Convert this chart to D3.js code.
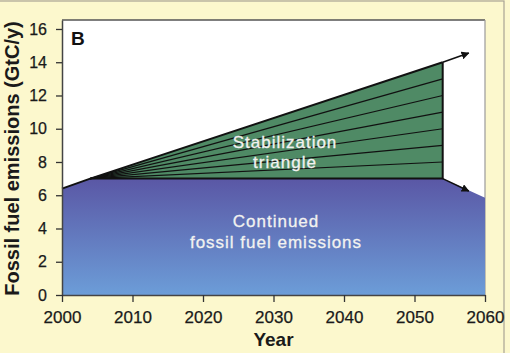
<!DOCTYPE html>
<html>
<head>
<meta charset="utf-8">
<script src="https://cdn.jsdelivr.net/npm/d3@7"></script>
<style>
  body { margin: 0; background: #fcf8cd; }
  svg { display: block; font-family: "Liberation Sans", Arial, sans-serif; }
</style>
</head>
<body>
<svg id="chart" width="510" height="353"></svg>
<script>
// emissions (GtC/y)
const emissionYears = [2000, 2004, 2054, 2060];
const emissionValues = [6.4, 7.0, 7.0, 5.85];
// upper path (business as usual ramp)
const rampYears = [2000, 2004, 2054];
const rampValues = [6.4, 7.0, 14.0];
// wedge edges at the end of the triangle
const wedgeEnds = [8, 9, 10, 11, 12, 13];
const wedgeStart = 2004, wedgeEnd = 2054, flatValue = 7.0;
// arrows past the triangle
const arrowYears = [2054, 2057.7];
const arrowTop = [14.0, 14.55];
const arrowBottom = [7.0, 6.25];
const yTicks = [0, 2, 4, 6, 8, 10, 12, 14, 16];
const xTicks = [2000, 2010, 2020, 2030, 2040, 2050, 2060];

const svg = d3.select("#chart");
const plotLeft = 62, plotRight = 485, plotTop = 20, plotBottom = 295;

const x = d3.scaleLinear().domain([2000, 2060]).range([plotLeft, plotRight]);
const y = d3.scaleLinear().domain([0, 16.54]).range([plotBottom, plotTop]);

// outer panel
svg.append("rect")
    .attr("x", -1).attr("y", 1)
    .attr("width", 505).attr("height", 360)
    .attr("fill", "#fcf8cd")
    .attr("stroke", "#a8a394")
    .attr("stroke-width", 1.2);

// plot box
svg.append("rect")
    .attr("x", plotLeft).attr("y", plotTop)
    .attr("width", plotRight - plotLeft).attr("height", plotBottom - plotTop)
    .attr("fill", "#fff");
svg.append("line")
    .attr("x1", plotLeft).attr("x2", plotRight)
    .attr("y1", plotTop).attr("y2", plotTop)
    .attr("stroke", "#555").attr("stroke-width", 1.5);
svg.append("line")
    .attr("x1", plotRight).attr("x2", plotRight)
    .attr("y1", plotTop).attr("y2", plotBottom)
    .attr("stroke", "#9a9a9a").attr("stroke-width", 1.2);

const defs = svg.append("defs");
let grad = defs.append("linearGradient")
    .attr("id", "blue")
    .attr("gradientUnits", "userSpaceOnUse")
    .attr("x1", 0).attr("x2", 0)
    .attr("y1", y(flatValue)).attr("y2", y(0));
grad.append("stop").attr("offset", 0).attr("stop-color", "#5a57a5");
grad.append("stop").attr("offset", 1).attr("stop-color", "#6c9dd8");

defs.append("marker")
    .attr("id", "head")
    .attr("viewBox", "0 0 10 10")
    .attr("refX", 9).attr("refY", 5)
    .attr("markerWidth", 8).attr("markerHeight", 8)
    .attr("markerUnits", "userSpaceOnUse")
    .attr("orient", "auto")
    .append("path")
    .attr("d", "M0,0L10,5L0,10z")
    .attr("fill", "#111");

// continued fossil fuel emissions
let area = d3.area()
    .x(d => x(d[0]))
    .y0(y(0))
    .y1(d => y(d[1]));
svg.append("path")
    .datum(emissionYears.map((d, i) => [d, emissionValues[i]]))
    .attr("d", area)
    .attr("fill", "url(#blue)");

// stabilization triangle
let line = d3.line().x(d => x(d[0])).y(d => y(d[1]));
svg.append("path")
    .datum([[wedgeStart, flatValue], [wedgeEnd, rampValues[2]], [wedgeEnd, flatValue]])
    .attr("d", d => line(d) + "Z")
    .attr("fill", "#4f8a65");

svg.selectAll(".wedge")
    .data(wedgeEnds)
    .enter().append("path")
    .attr("class", "wedge")
    .attr("d", d => line([[wedgeStart, flatValue], [wedgeEnd, d]]))
    .attr("fill", "none")
    .attr("stroke", "#111")
    .attr("stroke-width", 1.2);

svg.append("path")
    .datum([[wedgeStart, flatValue], [wedgeEnd, flatValue], [wedgeEnd, rampValues[2]]])
    .attr("d", line)
    .attr("fill", "none")
    .attr("stroke", "#111")
    .attr("stroke-width", 2);

svg.append("path")
    .datum(rampYears.map((d, i) => [d, rampValues[i]]))
    .attr("d", line)
    .attr("fill", "none")
    .attr("stroke", "#111")
    .attr("stroke-width", 2);

[arrowTop, arrowBottom].forEach(vals => {
    svg.append("path")
        .datum(arrowYears.map((d, i) => [d, vals[i]]))
        .attr("d", line)
        .attr("fill", "none")
        .attr("stroke", "#111")
        .attr("stroke-width", 1.6)
        .attr("marker-end", "url(#head)");
});

// labels inside
const inner = svg.append("g")
    .attr("fill", "#f2f2f0")
    .attr("stroke", "#f2f2f0")
    .attr("stroke-width", 0.3)
    .attr("font-size", 17)
    .attr("letter-spacing", 1)
    .attr("text-anchor", "middle");
inner.append("text").attr("x", 285).attr("y", 148).text("Stabilization");
inner.append("text").attr("x", 285).attr("y", 168).text("triangle");
inner.append("text").attr("x", 276).attr("y", 227).text("Continued");
inner.append("text").attr("x", 276).attr("y", 248).text("fossil fuel emissions");

// axes
let yAxis = svg.append("g")
    .attr("transform", `translate(${plotLeft},0)`)
    .call(d3.axisLeft(y).tickValues(yTicks).tickSize(6).tickSizeOuter(0).tickPadding(9));
let xAxis = svg.append("g")
    .attr("transform", `translate(0,${plotBottom})`)
    .call(d3.axisBottom(x).tickValues(xTicks).tickFormat(d3.format("d")).tickSize(7).tickSizeOuter(0).tickPadding(9));

[yAxis, xAxis].forEach(g => {
    g.select(".domain").attr("stroke", "#444").attr("stroke-width", 1.5);
    g.selectAll(".tick line").attr("stroke", "#333").attr("stroke-width", 1.3);
    g.selectAll(".tick text")
        .attr("fill", "#1a1a1a")
        .attr("stroke", "#1a1a1a")
        .attr("stroke-width", 0.25)
        .attr("font-family", "Liberation Sans, Arial, sans-serif");
});
yAxis.selectAll(".tick text").attr("font-size", 16);
xAxis.selectAll(".tick text").attr("font-size", 17);

svg.append("text")
    .attr("x", (plotLeft + plotRight) / 2)
    .attr("y", 346)
    .attr("text-anchor", "middle")
    .attr("font-size", 19)
    .attr("font-weight", "bold")
    .attr("fill", "#1a1a1a")
    .text("Year");

svg.append("text")
    .attr("transform", `translate(19,${(plotTop + plotBottom) / 2 + 1}) rotate(-90)`)
    .attr("text-anchor", "middle")
    .attr("font-size", 20)
    .attr("font-weight", "bold")
    .attr("fill", "#1a1a1a")
    .text("Fossil fuel emissions (GtC/y)");

svg.append("text")
    .attr("x", 71).attr("y", 45)
    .attr("font-size", 19)
    .attr("font-weight", "bold")
    .attr("fill", "#111")
    .text("B");
</script>
</body>
</html>
